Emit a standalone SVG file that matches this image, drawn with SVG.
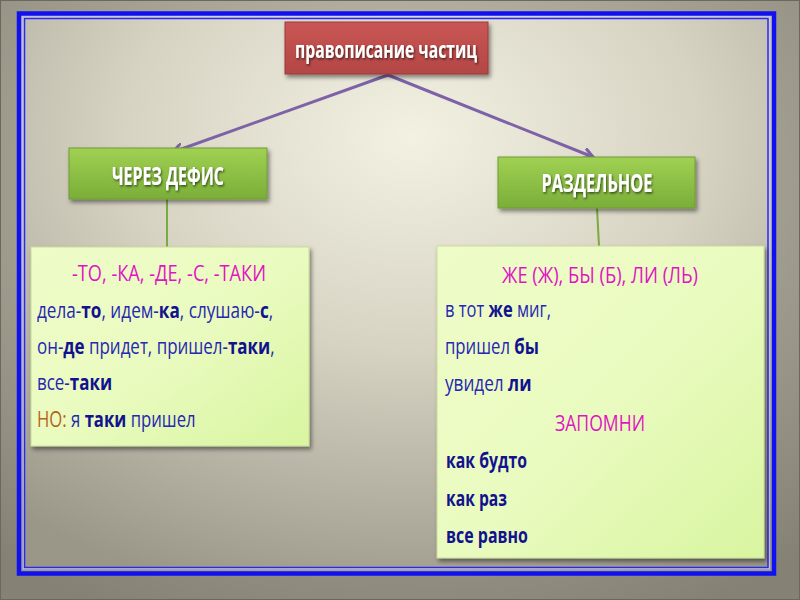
<svg xmlns="http://www.w3.org/2000/svg" width="800" height="600" viewBox="0 0 800 600">
  <defs>
    <radialGradient id="outerBg" cx="0.5" cy="0.3" r="0.8">
      <stop offset="0" stop-color="#c9c6b6"/>
      <stop offset="1" stop-color="#858275"/>
    </radialGradient>
    <radialGradient id="innerBg" cx="0.52" cy="0.22" r="0.85">
      <stop offset="0" stop-color="#f3f1e2"/>
      <stop offset="0.45" stop-color="#d6d3c3"/>
      <stop offset="1" stop-color="#9a9789"/>
    </radialGradient>
    <linearGradient id="redFill" x1="0" y1="0" x2="0" y2="1">
      <stop offset="0" stop-color="#c95654"/>
      <stop offset="1" stop-color="#b34745"/>
    </linearGradient>
    <linearGradient id="greenFill" x1="0" y1="0" x2="0" y2="1">
      <stop offset="0" stop-color="#a0d153"/>
      <stop offset="1" stop-color="#7aae38"/>
    </linearGradient>
    <linearGradient id="noteFill" x1="0" y1="0" x2="1" y2="1">
      <stop offset="0" stop-color="#eefcc8"/>
      <stop offset="0.5" stop-color="#eafbc0"/>
      <stop offset="1" stop-color="#d8f5a0"/>
    </linearGradient>
    <filter id="shadow" x="-10%" y="-10%" width="125%" height="130%">
      <feDropShadow dx="2" dy="3" stdDeviation="2" flood-color="#000" flood-opacity="0.45"/>
    </filter>
    <filter id="txtShadow" x="-10%" y="-30%" width="120%" height="160%">
      <feDropShadow dx="1" dy="1.5" stdDeviation="1" flood-color="#000" flood-opacity="0.6"/>
    </filter>
    <marker id="arrow" viewBox="0 0 12 12" refX="10" refY="6" markerWidth="12" markerHeight="12" markerUnits="userSpaceOnUse" orient="auto">
      <path d="M1,1 L10,6 L1,11" fill="none" stroke="#7e62a8" stroke-width="3" stroke-linejoin="round" stroke-linecap="round"/>
    </marker>
    <style>
      .title { font-family: "Open Sans", "Noto Sans", "Liberation Sans", sans-serif; font-weight: bold; fill: #ffffff; }
      .note { font-family: "Open Sans", "Noto Sans", "Liberation Sans", sans-serif; font-size: 22px; fill: #2626b2; }
      .b { font-weight: bold; fill: #12128e; }
      .mag { fill: #e014c4; }
      .brown { fill: #b5641a; }
      .conn { stroke: #7e62a8; stroke-width: 3; fill: none; stroke-linecap: round; }
      .stem { stroke: #7aab3e; stroke-width: 2; fill: none; }
    </style>
  </defs>

  <!-- background and frame -->
  <rect x="0" y="0" width="800" height="600" fill="url(#outerBg)"/>
  <rect x="0.5" y="0.5" width="799" height="599" fill="none" stroke="#6b695f" stroke-width="1"/>
  <rect x="19" y="13.5" width="755" height="560" fill="url(#innerBg)"/>
  <rect x="19" y="13.5" width="755" height="560" fill="none" stroke="#1010f0" stroke-width="4.5"/>
  <rect x="23.5" y="17.5" width="745.5" height="551" fill="none" stroke="#c8c8f8" stroke-width="1.5"/>
  <rect x="24.5" y="18.5" width="743.5" height="549" fill="none" stroke="#2a2ae8" stroke-width="1.5"/>

  <!-- connectors -->
  <g id="connectors">
    <path class="conn" d="M388,75 L173,152" marker-end="url(#arrow)"/>
    <path class="conn" d="M388,75 L593,157" marker-end="url(#arrow)"/>
    <path class="stem" d="M167,199 L167,247"/>
    <path class="stem" d="M597,208 L599,246"/>
  </g>

  <!-- top node -->
  <g id="node-root">
    <rect x="285" y="22" width="203" height="52" fill="url(#redFill)" stroke="#9c3b39" stroke-width="1" filter="url(#shadow)"/>
    <text class="title" x="386" y="58" font-size="23" text-anchor="middle" textLength="182" lengthAdjust="spacingAndGlyphs" filter="url(#txtShadow)">правописание частиц</text>
  </g>

  <!-- left heading -->
  <g id="node-hyphen">
    <rect x="69" y="148" width="198" height="51" fill="url(#greenFill)" stroke="#6f9c34" stroke-width="1" filter="url(#shadow)"/>
    <text class="title" x="168" y="185" font-size="25" text-anchor="middle" textLength="112" lengthAdjust="spacingAndGlyphs" filter="url(#txtShadow)">ЧЕРЕЗ ДЕФИС</text>
  </g>

  <!-- right heading -->
  <g id="node-separate">
    <rect x="498" y="157" width="197" height="51" fill="url(#greenFill)" stroke="#6f9c34" stroke-width="1" filter="url(#shadow)"/>
    <text class="title" x="597" y="192" font-size="25" text-anchor="middle" textLength="111" lengthAdjust="spacingAndGlyphs" filter="url(#txtShadow)">РАЗДЕЛЬНОЕ</text>
  </g>

  <!-- left content -->
  <g id="node-hyphen-list">
    <rect x="31" y="247" width="278" height="199" fill="url(#noteFill)" stroke="#c9dc9c" stroke-width="1" filter="url(#shadow)"/>
    <text class="note mag" x="169" y="281" text-anchor="middle" textLength="194" lengthAdjust="spacingAndGlyphs">-ТО, -КА, -ДЕ, -С, -ТАКИ</text>
    <text class="note" transform="translate(37,318) scale(0.78,1)">дела-<tspan class="b">то</tspan>, идем-<tspan class="b">ка</tspan>, слушаю-<tspan class="b">с</tspan>,</text>
    <text class="note" transform="translate(37,354) scale(0.77,1)">он-<tspan class="b">де</tspan> придет, пришел-<tspan class="b">таки</tspan>,</text>
    <text class="note" transform="translate(37,390) scale(0.77,1)">все-<tspan class="b">таки</tspan></text>
    <text class="note" transform="translate(37,427) scale(0.76,1)"><tspan class="brown">НО:</tspan> я <tspan class="b">таки</tspan> пришел</text>
  </g>

  <!-- right content -->
  <g id="node-separate-list">
    <rect x="437" y="246" width="327" height="312" fill="url(#noteFill)" stroke="#c9dc9c" stroke-width="1" filter="url(#shadow)"/>
    <text class="note mag" x="600" y="283" text-anchor="middle" textLength="196" lengthAdjust="spacingAndGlyphs">ЖЕ (Ж), БЫ (Б), ЛИ (ЛЬ)</text>
    <text class="note" transform="translate(445,317) scale(0.75,1)">в тот <tspan class="b">же</tspan> миг,</text>
    <text class="note" transform="translate(445,354) scale(0.76,1)">пришел <tspan class="b">бы</tspan></text>
    <text class="note" transform="translate(445,391) scale(0.78,1)">увидел <tspan class="b">ли</tspan></text>
    <text class="note mag" x="600" y="431" text-anchor="middle" textLength="90" lengthAdjust="spacingAndGlyphs">ЗАПОМНИ</text>
    <text class="note b" x="446" y="468" textLength="81" lengthAdjust="spacingAndGlyphs">как будто</text>
    <text class="note b" x="446" y="506" textLength="61" lengthAdjust="spacingAndGlyphs">как раз</text>
    <text class="note b" x="446" y="543" textLength="82" lengthAdjust="spacingAndGlyphs">все равно</text>
  </g>
</svg>
